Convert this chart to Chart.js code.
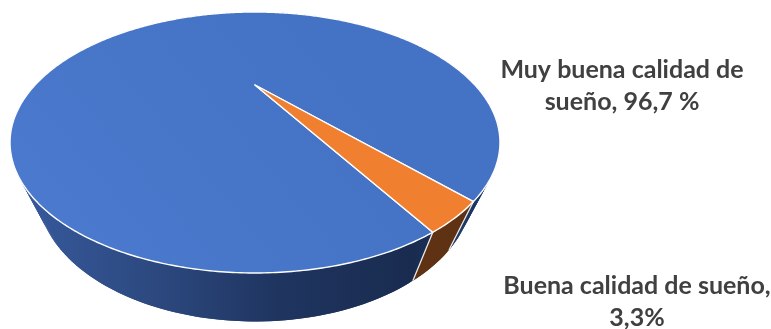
<!DOCTYPE html>
<html lang="es">
<head>
<meta charset="utf-8">
<title>Calidad de sueño</title>
<script src="https://cdn.jsdelivr.net/npm/chart.js@4"></script>
<style>
    html, body { margin: 0; padding: 0; background: #fff; overflow: hidden; }
    #sleepChart { display: block; }
</style>
</head>
<body>
<canvas id="sleepChart" width="771" height="329"></canvas>
<script>
const categories = ['Muy buena calidad de sueño', 'Buena calidad de sueño'];
const sleepValues = [96.7, 3.3];
const labelLines = [
    ['Muy buena calidad de', 'sueño, 96,7 %'],
    ['Buena calidad de sueño,', '3,3%']
];

// Perspective of the disc: unit circle -> screen (apex sits above the ellipse centre)
const persp = { cx: 255, a: 67.7, b: 85, c: -0.4406, d: 219.9 };
// The bottom rim is narrower than the top rim and pushed down by the wall height
const wall = { scaleX: 0.888, drop: 48.5 };
const labelPos = [
    { x: 622, y: 78 },
    { x: 637, y: 294 }
];
const lineGap = 32;

function rimPoint(angle, bottom) {
    const u = Math.cos(angle), v = Math.sin(angle);
    const w = 1 + persp.c * v;
    const x = persp.cx + persp.d * u / w;
    const y = (persp.a * v + persp.b) / w;
    if (!bottom) return { x, y };
    return { x: persp.cx + (x - persp.cx) * wall.scaleX, y: y + wall.drop };
}

function traceArc(ctx, start, end, bottom, move) {
    const steps = Math.max(2, Math.ceil(Math.abs(end - start) / 0.01));
    for (let i = 0; i <= steps; i++) {
        const p = rimPoint(start + (end - start) * i / steps, bottom);
        if (i === 0 && move) ctx.moveTo(p.x, p.y);
        else ctx.lineTo(p.x, p.y);
    }
}

// The wall is filled strip by strip so the silhouette edges come out right;
// each strip overlaps the next one to hide the seams
function fillWall(ctx, start, end, fill) {
    const step = 0.015;
    ctx.fillStyle = fill;
    for (let a = start; a < end; a += step) {
        const b = Math.min(a + step * 2, end);
        const p1 = rimPoint(a, false), p2 = rimPoint(b, false);
        const p3 = rimPoint(b, true), p4 = rimPoint(a, true);
        ctx.beginPath();
        ctx.moveTo(p1.x, p1.y);
        ctx.lineTo(p2.x, p2.y);
        ctx.lineTo(p3.x, p3.y);
        ctx.lineTo(p4.x, p4.y);
        ctx.closePath();
        ctx.fill();
    }
}

// Replaces the flat arcs: takes each slice's angles from the chart and draws it in 3D
const pie3d = {
    id: 'pie3d',
    beforeDatasetsDraw(chart) {
        const ctx = chart.ctx;
        const arcs = chart.getDatasetMeta(0).data;

        const blueWall = ctx.createLinearGradient(30, 0, 480, 0);
        blueWall.addColorStop(0, '#36589a');
        blueWall.addColorStop(0.3, '#2b477d');
        blueWall.addColorStop(0.55, '#1f3560');
        blueWall.addColorStop(0.85, '#192b4f');
        blueWall.addColorStop(1, '#1b3768');
        const wallFills = [blueWall, '#5e3213'];

        ctx.save();
        arcs.forEach((arc, i) => fillWall(ctx, arc.startAngle, arc.endAngle, wallFills[i]));

        // light edges where the wall changes colour
        const split = arcs[1];
        ctx.strokeStyle = '#e8e8e8';
        ctx.lineWidth = 1.3;
        [split.startAngle, split.endAngle].forEach(angle => {
            const top = rimPoint(angle, false), low = rimPoint(angle, true);
            ctx.beginPath();
            ctx.moveTo(top.x, top.y);
            ctx.lineTo(low.x, low.y);
            ctx.stroke();
        });

        // top faces
        const apex = { x: persp.cx, y: persp.b };
        arcs.forEach(arc => {
            ctx.beginPath();
            ctx.moveTo(apex.x, apex.y);
            traceArc(ctx, arc.startAngle, arc.endAngle, false, false);
            ctx.closePath();
            ctx.fillStyle = arc.options.backgroundColor;
            ctx.fill();
            ctx.strokeStyle = '#ffffff';
            ctx.lineWidth = 1.4;
            ctx.lineJoin = 'round';
            ctx.stroke();
        });
        ctx.restore();
        return false;
    },
    afterDraw(chart) {
        const ctx = chart.ctx;
        ctx.save();
        ctx.font = 'bold 25px Lato';
        ctx.fillStyle = '#404040';
        ctx.textAlign = 'center';
        ctx.textBaseline = 'alphabetic';
        labelLines.forEach((lines, i) => {
            lines.forEach((line, n) => {
                ctx.fillText(line, labelPos[i].x, labelPos[i].y + n * lineGap);
            });
        });
        ctx.restore();
    }
};

const canvas = document.getElementById('sleepChart');
const topBlue = canvas.getContext('2d').createLinearGradient(90, 260, 330, 60);
topBlue.addColorStop(0, '#4a79cd');
topBlue.addColorStop(1, '#4472c4');

new Chart(canvas, {
    type: 'pie',
    data: {
        labels: categories,
        datasets: [{
            data: sleepValues,
            backgroundColor: [topBlue, '#f07f30'],
            borderWidth: 0
        }]
    },
    options: {
        responsive: false,
        animation: false,
        rotation: 150,
        plugins: {
            legend: { display: false },
            tooltip: { enabled: false }
        }
    },
    plugins: [pie3d]
});
</script>
</body>
</html>
